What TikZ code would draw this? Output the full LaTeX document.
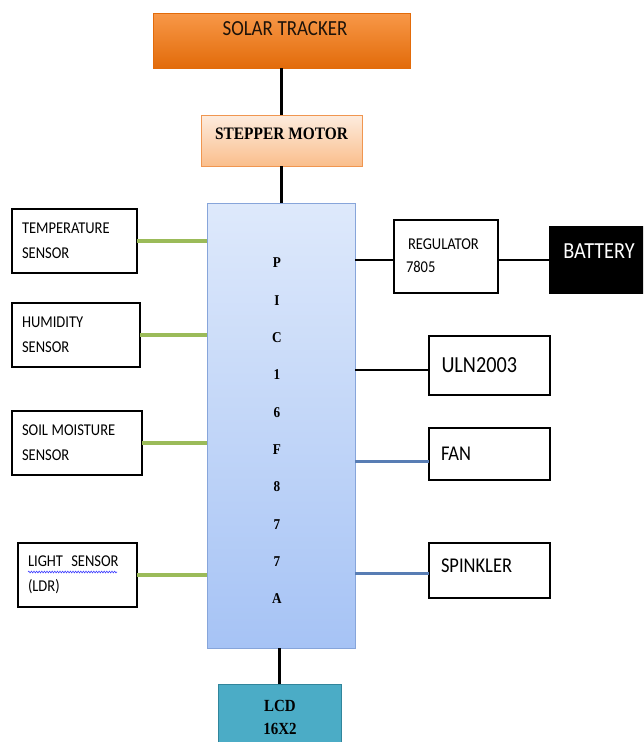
\documentclass[tikz,border=0pt]{standalone}
\usepackage{fontspec}
\setmainfont{Carlito}[FakeStretch=0.88]
\newfontfamily\tnr{Liberation Serif}[FakeStretch=0.88]
\usetikzlibrary{calc,decorations.pathmorphing}
\definecolor{solarT}{RGB}{248,152,72}
\definecolor{solarB}{RGB}{226,107,10}
\definecolor{stepT}{RGB}{253,236,222}
\definecolor{stepB}{RGB}{250,190,140}
\definecolor{stepD}{RGB}{240,150,80}
\definecolor{picT}{RGB}{222,233,251}
\definecolor{picB}{RGB}{166,195,245}
\definecolor{picD}{RGB}{135,165,218}
\definecolor{lcdF}{RGB}{75,172,198}
\definecolor{lcdD}{RGB}{49,133,155}
\definecolor{grn}{RGB}{155,187,89}
\definecolor{blu}{RGB}{88,125,180}
\newcommand\wsp{\hspace{0.22em}}
\begin{document}
\begin{tikzpicture}[x=1pt,y=-1pt,
  wbox/.style={draw=black, line width=2.2pt, fill=white, inner ysep=0pt, outer sep=0pt, align=left},
  stxt/.style={font=\fontsize{16.5}{25}\selectfont},
  btxt/.style={font=\fontsize{21}{25}\selectfont},
  blk/.style={draw=black, line width=2.8pt},
  gline/.style={draw=grn, line width=3.8pt},
  bline/.style={draw=blu, line width=3pt},
  plain/.style={inner sep=0pt, outer sep=0pt}]
\clip (0,0) rectangle (643,742);
\fill[white] (0,0) rectangle (643,742);
% top chain
\node[plain, draw=solarB, line width=0.8pt, top color=solarT, bottom color=solarB,
  minimum width=257pt, minimum height=55pt] (solar) at (281.5,40.5) {};
\node[plain, text=black!85!brown, font=\fontsize{21.5}{25}\selectfont] (solartxt) at (285,29) {SOLAR\wsp TRACKER};
\node[plain, draw=stepD, line width=0.8pt, top color=stepT, bottom color=stepB,
  minimum width=161pt, minimum height=51pt, font=\tnr\bfseries\fontsize{17.5}{20}\selectfont]
  (stepper) at (281.5,140.5) {\raisebox{13pt}{STEPPER\wsp MOTOR}};
% PIC
\node[plain, draw=picD, line width=0.8pt, top color=picT, bottom color=picB,
  minimum width=148pt, minimum height=445pt] (pic) at (281,425.5) {};
\node[plain, align=center, font=\tnr\bfseries\fontsize{15}{37.33}\selectfont]
  (pictxt) at (277,431) {P\\I\\C\\1\\6\\F\\8\\7\\7\\A};
% LCD
\node[plain, draw=lcdD, line width=1pt, fill=lcdF, minimum width=123pt, minimum height=90pt] (lcd) at (279.5,729) {};
\node[plain, align=center, font=\tnr\bfseries\fontsize{17}{23}\selectfont] (lcdtxt) at (280,717) {LCD\\16X2};
% left boxes
\node[wbox, stxt, minimum width=125pt, minimum height=64pt, text width=105pt, inner xsep=10pt]
  (temp) at (74.5,241) {TEMPERATURE\\SENSOR};
\node[wbox, stxt, minimum width=128pt, minimum height=64pt, text width=108pt, inner xsep=10pt]
  (hum) at (76,335) {HUMIDITY\\SENSOR};
\node[wbox, stxt, minimum width=130pt, minimum height=64pt, text width=110pt, inner xsep=10pt]
  (soil) at (77,443) {SOIL\wsp MOISTURE\\SENSOR};
\node[wbox, stxt, minimum width=119pt, minimum height=64pt, text width=99pt, inner xsep=10pt]
  (light) at (77.5,575) {LIGHT\hspace{0.5em}SENSOR\\(LDR)};
\draw[blue!75, line width=0.6pt, decorate, decoration={snake, amplitude=0.9pt, segment length=2.6pt}]
  ($(light.west)+(10,-3)$) -- ++(89,0);
% right boxes
\node[wbox, font=\fontsize{16.5}{23}\selectfont, minimum width=104pt, minimum height=73pt, text width=80pt, inner xsep=12pt]
  (reg) at (446,256.5) {\raisebox{14pt}{\parbox{80pt}{\hspace{2pt}REGULATOR\\7805}}};
\node[plain, fill=black, text=white, font=\fontsize{23}{25}\selectfont, minimum width=100pt, minimum height=68pt]
  (bat) at (599,260) {\raisebox{17pt}{BATTERY}};
\node[wbox, font=\fontsize{23}{25}\selectfont, minimum width=109pt, minimum height=59pt, text width=96pt, inner xsep=12.5pt]
  (uln) at (489.5,365.5) {ULN2003};
\node[wbox, btxt, minimum width=109pt, minimum height=52pt, text width=97pt, inner xsep=12pt]
  (fan) at (489.5,454) {FAN};
\node[wbox, btxt, minimum width=109pt, minimum height=55pt, text width=97pt, inner xsep=12pt]
  (spink) at (489.5,570.5) {\raisebox{9pt}{SPINKLER}};
% connectors
\draw[blk] (solar.south -| stepper.north) -- (stepper.north);
\draw[blk] (stepper.south) -- (stepper.south |- pic.north);
\draw[blk] (pic.south -| lcd.north) -- (lcd.north);
\draw[gline] (temp.east) -- (temp.east -| pic.west);
\draw[gline] (hum.east) -- (hum.east -| pic.west);
\draw[gline] (soil.east) -- (soil.east -| pic.west);
\draw[gline] (light.east) -- (light.east -| pic.west);
\coordinate (rl) at ($(reg.west)+(0,3.5)$);
\draw[blk] (rl -| pic.east) -- (rl);
\draw[blk] (reg.east |- bat.west) -- (bat.west);
\coordinate (ul) at ($(uln.west)+(0,4.5)$);
\draw[blk] (ul -| pic.east) -- (ul);
\coordinate (fl) at ($(fan.west)+(0,7)$);
\draw[bline] (fl -| pic.east) -- (fl);
\coordinate (sl) at ($(spink.west)+(0,2.5)$);
\draw[bline] (sl -| pic.east) -- (sl);
\end{tikzpicture}
\end{document}
